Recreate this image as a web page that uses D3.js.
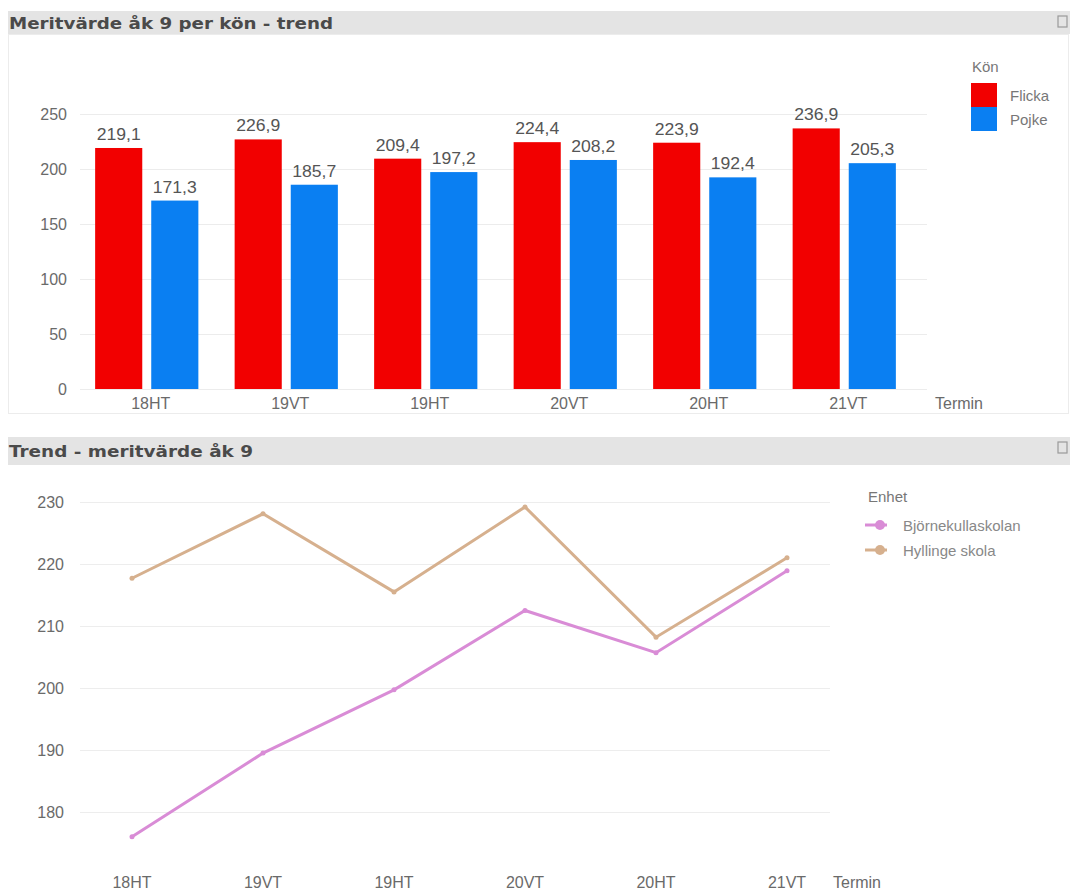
<!DOCTYPE html>
<html><head><meta charset="utf-8">
<script src="https://cdn.jsdelivr.net/npm/d3@7"></script>
<style>body{margin:0;background:#fff}svg{display:block}</style>
</head><body>
<script>
const terms = ["18HT","19VT","19HT","20VT","20HT","21VT"];
const genders = ["Flicka","Pojke"];
const flicka = [219.1,226.9,209.4,224.4,223.9,236.9];
const pojke = [171.3,185.7,197.2,208.2,192.4,205.3];
const barTicks = [0,50,100,150,200,250];
const units = ["Björnekullaskolan","Hyllinge skola"];
const bjornekulla = [176.0,189.5,199.7,212.5,205.7,218.9];
const hyllinge = [217.7,228.1,215.5,229.2,208.2,221.0];
const lineTicks = [180,190,200,210,220,230];

const W=1070,H=890;
const svg=d3.select("body").append("svg").attr("width",W).attr("height",H);
const font="'Liberation Sans', Arial, sans-serif";
const txt="#6a6a6a";

function panelTitle(y0,h,label,len){
  svg.append("rect").attr("x",8).attr("y",y0).attr("width",W-8).attr("height",h).attr("fill","#e4e4e4");
  svg.append("text").attr("x",9).attr("y",y0+h/2+6).attr("font-family","'DejaVu Sans', Verdana, sans-serif")
    .attr("font-weight","bold").attr("font-size",16).attr("fill","#4a4a4a")
    .attr("textLength",len).attr("lengthAdjust","spacingAndGlyphs").text(label);
  svg.append("rect").attr("x",1058).attr("y",y0+5).attr("width",9).attr("height",11)
    .attr("fill","none").attr("stroke","#9a9a9a").attr("stroke-width",1.2);
}

// ---------- Top panel ----------
svg.append("rect").attr("x",8.5).attr("y",34.5).attr("width",W-10).attr("height",379)
  .attr("fill","#fff").attr("stroke","#ececec");
panelTitle(11,23,"Meritvärde åk 9 per kön - trend",324);

const x0=d3.scaleBand().domain(terms).range([77,914]).paddingInner(0.26).paddingOuter(0.13);
const x1=d3.scaleBand().domain(genders).range([0,x0.bandwidth()]).paddingInner(0.16);
const y=d3.scaleLinear().domain([0,250]).range([389,114]);
const color=d3.scaleOrdinal().domain(genders).range(["#f20000","#0a7ff2"]);

const gy=svg.append("g");
gy.selectAll("line").data(barTicks).join("line")
  .attr("x1",80).attr("x2",927).attr("y1",d=>y(d)+0.5).attr("y2",d=>y(d)+0.5)
  .attr("stroke","#ececec").attr("stroke-width",1);
gy.selectAll("text").data(barTicks).join("text")
  .attr("x",67).attr("y",d=>y(d)+6).attr("text-anchor","end")
  .attr("font-family",font).attr("font-size",16).attr("fill",txt).text(d=>d);

const rows=terms.map((t,i)=>({term:t,vals:[{g:"Flicka",v:flicka[i]},{g:"Pojke",v:pojke[i]}]}));
const fmt=v=>d3.format(".1f")(v).replace(".",",");
const grp=svg.append("g").selectAll("g").data(rows).join("g").attr("transform",d=>`translate(${x0(d.term)},0)`);
grp.selectAll("rect").data(d=>d.vals).join("rect")
  .attr("x",d=>x1(d.g)).attr("width",x1.bandwidth())
  .attr("y",d=>y(d.v)).attr("height",d=>y(0)-y(d.v)).attr("fill",d=>color(d.g));
grp.selectAll("text").data(d=>d.vals).join("text")
  .attr("x",d=>x1(d.g)+x1.bandwidth()/2).attr("y",d=>y(d.v)-8).attr("text-anchor","middle")
  .attr("font-family",font).attr("font-size",16).attr("fill","#555")
  .attr("textLength",44).attr("lengthAdjust","spacingAndGlyphs").text(d=>fmt(d.v));

svg.append("g").selectAll("text").data(terms).join("text")
  .attr("x",d=>x0(d)+x0.bandwidth()/2+4).attr("y",409).attr("text-anchor","middle")
  .attr("font-family",font).attr("font-size",16).attr("fill",txt).text(d=>d);
svg.append("text").attr("x",935).attr("y",409).attr("font-family",font).attr("font-size",16)
  .attr("fill",txt).text("Termin");

// legend top
svg.append("text").attr("x",972).attr("y",72).attr("font-family",font).attr("font-size",15).attr("fill","#777").text("Kön");
const lg=svg.append("g").selectAll("g").data(genders).join("g").attr("transform",(d,i)=>`translate(971,${83+i*24})`);
lg.append("rect").attr("width",26).attr("height",24).attr("fill",d=>color(d));
lg.append("text").attr("x",39).attr("y",18).attr("font-family",font).attr("font-size",15).attr("fill","#777").text(d=>d);

// ---------- Bottom panel ----------
panelTitle(437,28,"Trend - meritvärde åk 9",244);

const xp=d3.scalePoint().domain(terms).range([132,787]);
const yl=d3.scaleLinear().domain([180,230]).range([812,502]);
const lcolor=d3.scaleOrdinal().domain(units).range(["#d98cd6","#d6b08e"]);

const gl=svg.append("g");
gl.selectAll("line").data(lineTicks).join("line")
  .attr("x1",80).attr("x2",830).attr("y1",d=>yl(d)+0.5).attr("y2",d=>yl(d)+0.5)
  .attr("stroke","#ededed");
gl.selectAll("text").data(lineTicks).join("text")
  .attr("x",64).attr("y",d=>yl(d)+6).attr("text-anchor","end")
  .attr("font-family",font).attr("font-size",16).attr("fill",txt).text(d=>d);

const series=[{u:"Björnekullaskolan",v:bjornekulla},{u:"Hyllinge skola",v:hyllinge}];
const line=d3.line().x((d,i)=>xp(terms[i])).y(d=>yl(d));
const sg=svg.append("g").selectAll("g").data(series.slice().reverse()).join("g");
sg.append("path").attr("d",d=>line(d.v)).attr("fill","none").attr("stroke",d=>lcolor(d.u))
  .attr("stroke-width",3).attr("stroke-linejoin","miter");
sg.selectAll("circle").data(d=>d.v.map((v,i)=>({u:d.u,v,i}))).join("circle")
  .attr("cx",d=>xp(terms[d.i])).attr("cy",d=>yl(d.v)).attr("r",2.5).attr("fill",d=>lcolor(d.u));

svg.append("g").selectAll("text").data(terms).join("text")
  .attr("x",d=>xp(d)).attr("y",888).attr("text-anchor","middle")
  .attr("font-family",font).attr("font-size",16).attr("fill",txt).text(d=>d);
svg.append("text").attr("x",833).attr("y",888).attr("font-family",font).attr("font-size",16)
  .attr("fill",txt).text("Termin");

// legend bottom
svg.append("text").attr("x",868).attr("y",502).attr("font-family",font).attr("font-size",15).attr("fill","#777").text("Enhet");
const ll=svg.append("g").selectAll("g").data(units).join("g").attr("transform",(d,i)=>`translate(865,${525+i*25})`);
ll.append("line").attr("x1",0).attr("x2",22).attr("stroke",d=>lcolor(d)).attr("stroke-width",3);
ll.append("circle").attr("cx",15).attr("r",5).attr("fill",d=>lcolor(d));
ll.append("text").attr("x",38).attr("y",6).attr("font-family",font).attr("font-size",15).attr("fill","#888").text(d=>d);
</script>
</body></html>
